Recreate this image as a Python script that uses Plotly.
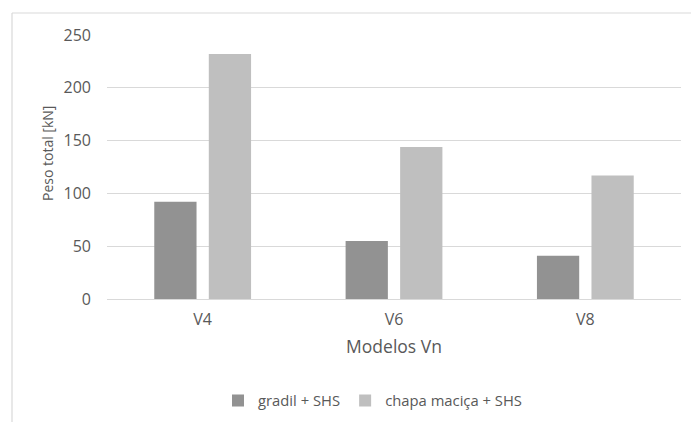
import plotly.graph_objects as go

# Total weight per model [kN]
modelos = ["V4", "V6", "V8"]
gradil_shs = [92, 55, 41]
chapa_shs = [232, 144, 117]
y_ticks = [0, 50, 100, 150, 200, 250]

FONT = "Open Sans"
TXT = "#595959"
GRID = "#d9d9d9"

fig = go.Figure()
fig.add_trace(go.Bar(x=modelos, y=gradil_shs, name="gradil + SHS",
                     marker=dict(color="#929292", line=dict(width=0))))
fig.add_trace(go.Bar(x=modelos, y=chapa_shs, name="chapa maciça + SHS",
                     marker=dict(color="#bfbfbf", line=dict(width=0))))

L, R, T, B = 107, 10, 35, 123
W, H = 691, 422
pw, ph = W - L - R, H - T - B


def px_x(p):
    return (p - L) / pw


def px_y(p):
    return (H - B - p) / ph


# chart-area frame (top and left edges)
fig.add_shape(type="line", xref="paper", yref="paper",
              x0=px_x(12), x1=px_x(691), y0=px_y(13), y1=px_y(13),
              line=dict(color=GRID, width=1.2))
fig.add_shape(type="line", xref="paper", yref="paper",
              x0=px_x(12), x1=px_x(12), y0=px_y(13), y1=px_y(430),
              line=dict(color=GRID, width=1.2))

# value-axis title, centred on the chart area rather than the plot area
fig.add_annotation(text="Peso total [kN]", textangle=-90, showarrow=False,
                   xref="paper", yref="paper", x=px_x(47), y=px_y(154),
                   xanchor="center", yanchor="middle",
                   font=dict(family=FONT, size=14, color=TXT))

fig.update_layout(
    width=W, height=H,
    margin=dict(l=L, r=R, t=T, b=B, autoexpand=False),
    paper_bgcolor="white", plot_bgcolor="white",
    barmode="group", bargap=0.43, bargroupgap=0.225,
    font=dict(family=FONT, color=TXT, size=16),
    showlegend=True,
    legend=dict(orientation="h", xref="container", yref="container",
                x=218 / W, xanchor="left", y=1 - 401 / H, yanchor="middle",
                font=dict(family=FONT, size=14.8, color=TXT), itemwidth=30,
                traceorder="normal", bgcolor="rgba(0,0,0,0)"),
    xaxis=dict(showgrid=False, showline=False, ticks="", ticklabelstandoff=9,
               automargin=False, tickfont=dict(size=16, color=TXT),
               title=dict(text="Modelos Vn", font=dict(size=17.5, color=TXT), standoff=11)),
    yaxis=dict(range=[0, 250], tickvals=y_ticks, showgrid=True, gridcolor=GRID, gridwidth=1.2,
               zeroline=True, zerolinecolor=GRID, zerolinewidth=1.2, showline=False,
               automargin=False, ticks="", ticklabelstandoff=15, tickfont=dict(size=16, color=TXT)),
)

fig.write_html("out.html")
